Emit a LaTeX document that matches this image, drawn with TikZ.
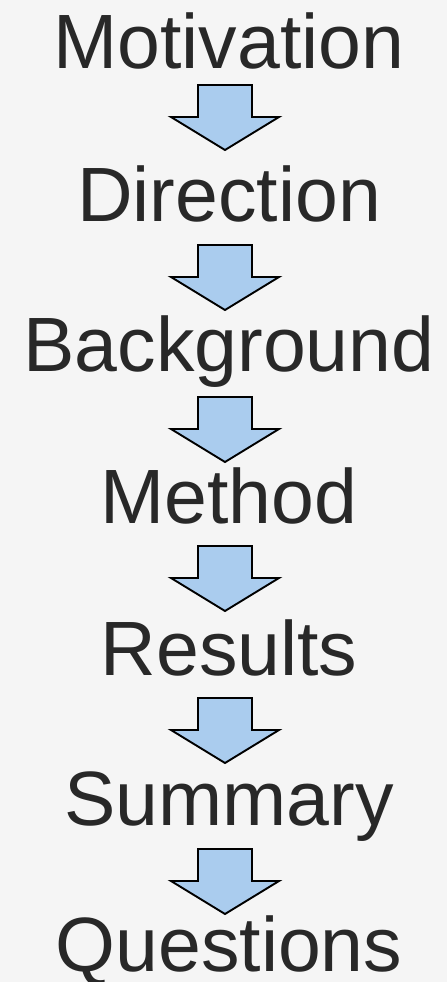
\documentclass[tikz,border=0pt]{standalone}
\usepackage{fontspec}
\setmainfont{Liberation Sans}
\definecolor{bgc}{HTML}{F5F5F5}
\definecolor{txtc}{HTML}{282828}
\definecolor{arrowfill}{HTML}{AACCEE}
\begin{document}
\begin{tikzpicture}[x=1pt,y=-1pt,
  steplabel/.style={font=\fontsize{77}{92}\selectfont, text=txtc, anchor=base, inner sep=0pt},
  blockarrow/.style={fill=arrowfill, draw=black, line width=1.9pt, line join=miter}]
\fill[bgc] (0,0) rectangle (447,982);
\useasboundingbox (0,0) rectangle (447,982);
\node[steplabel] (n1) at (229,68) {Motivation};
\node[steplabel] (n2) at (229,221) {Direction};
\node[steplabel] (n3) at (229,371) {Background};
\node[steplabel] (n4) at (229,523) {Method};
\node[steplabel] (n5) at (229,675) {Results};
\node[steplabel] (n6) at (229,825) {Summary};
\node[steplabel] (n7) at (229,971) {Questions};
\foreach \t in {85,245,397,546,698,849}{
  \draw[blockarrow] (198,\t) -- (252,\t) -- (252,\t+32) -- (279,\t+32) -- (225,\t+65) -- (171,\t+32) -- (198,\t+32) -- cycle;
}
\end{tikzpicture}
\end{document}
